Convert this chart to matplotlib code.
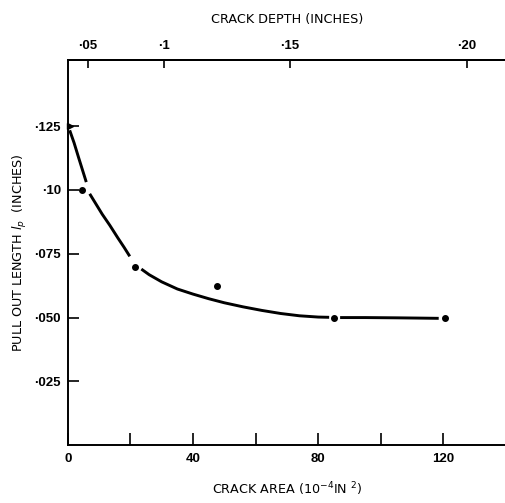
import numpy as np
import matplotlib
matplotlib.use("Agg")
import matplotlib.pyplot as plt

# ----------- Data ----------------------------------
point_area = [4.5, 21.4, 47.6, 85.0, 120.5]
point_length = [0.100, 0.070, 0.0625, 0.050, 0.0497]
first_area, first_length = 0.6, 0.125   # drawn as an arrowhead on the axis

# fitted curve, nan = gap left around a data point
curve_area = [0.6, 2.0, 3.5, 5.9, np.nan, 7.0, 9.0, 11.0, 13.4, 16.0, 18.0, 19.8, np.nan,
              23.5, 26.0, 30.0, 35.0, 40.0, 45.0, 50.0, 56.0, 62.0, 68.0, 74.0, 80.0, 83.5, np.nan,
              87.0, 95.0, 105.0, 112.0, 118.5]
curve_length = [0.1234, 0.1185, 0.1125, 0.1031, np.nan, 0.0985, 0.0945, 0.0905, 0.0862, 0.0812, 0.0775, 0.0740, np.nan,
                0.0690, 0.0668, 0.0640, 0.0612, 0.0592, 0.0574, 0.0558, 0.0542, 0.0528, 0.0516, 0.0507, 0.0502, 0.0501, np.nan,
                0.0500, 0.0500, 0.0499, 0.0498, 0.0497]

area_ticks = [0, 40, 80, 120]
area_minor = [20, 60, 100]
length_ticks = [0.025, 0.050, 0.075, 0.10, 0.125]
length_labels = ["·025", "·050", "·075", "·10", "·125"]
depth_ticks = [0.05, 0.10, 0.15, 0.20]
depth_labels = ["·05", "·1", "·15", "·20"]
# ---------------------------------------------------

TICK_FONT = dict(family=["Liberation Sans", "DejaVu Sans"], fontweight="bold", fontsize=9.5)
LABEL_FONT = dict(family=["DejaVu Sans"], fontsize=9.2)


def area_to_depth(a):
    a = np.asarray(a, dtype=float)
    return np.sqrt(np.clip(a + 1.7, 0, None) / 3230.0)


def depth_to_area(d):
    d = np.asarray(d, dtype=float)
    return 3230.0 * d ** 2 - 1.7


fig = plt.figure(figsize=(5.06, 5.03), dpi=100)
ax = fig.add_axes([0.134, 0.115, 0.866, 0.766])

ax.plot(curve_area, curve_length, color="black", lw=2.1, solid_capstyle="butt")
ax.plot(point_area, point_length, "o", color="black", ms=4, clip_on=False)
ax.plot([first_area], [first_length], ">", color="black", ms=5, clip_on=False)

ax.set_xlim(0, 140)
ax.set_ylim(0, 0.151)

ax.spines["right"].set_visible(False)
for s in ["left", "bottom", "top"]:
    ax.spines[s].set_linewidth(1.4)

ax.set_xticks(area_ticks)
ax.set_xticks(area_minor, minor=True)
ax.tick_params(axis="x", which="both", direction="in", length=9, width=1.2, pad=6)
ax.set_xticklabels([str(v) for v in area_ticks], **TICK_FONT)

ax.set_yticks(length_ticks)
ax.set_yticklabels(length_labels, **TICK_FONT)
ax.tick_params(axis="y", direction="in", length=8, width=1.2, pad=5)

ax.set_xlabel("CRACK AREA (10$^{\\mathregular{-4}}$IN $^{\\mathregular{2}}$)", labelpad=11, **LABEL_FONT)
ax.set_ylabel("PULL OUT LENGTH $\\it{l}_p$  (INCHES)", labelpad=4, **LABEL_FONT)

sec = ax.secondary_xaxis("top", functions=(area_to_depth, depth_to_area))
sec.set_xticks(depth_ticks)
sec.set_xticklabels(depth_labels, **TICK_FONT)
sec.tick_params(direction="in", length=6, width=1.2, pad=6)
sec.spines["top"].set_linewidth(1.4)
sec.set_xlabel("CRACK DEPTH (INCHES)", labelpad=12, **LABEL_FONT)

fig.savefig("out.png", dpi=100)
